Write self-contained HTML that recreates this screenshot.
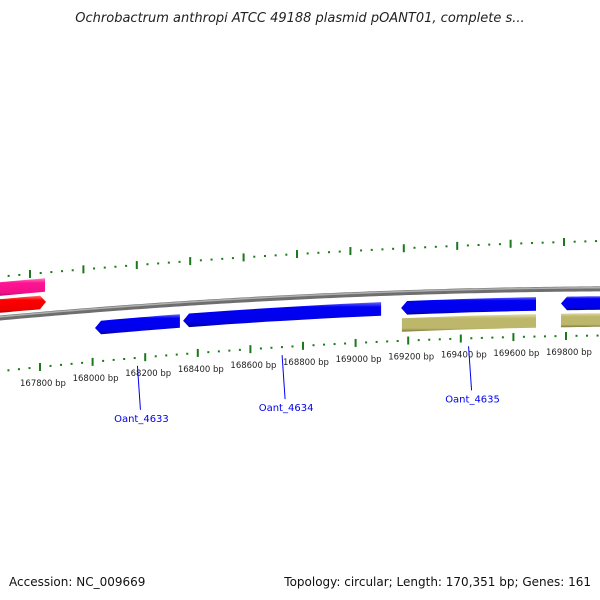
<!DOCTYPE html>
<html><head><meta charset="utf-8"><style>
body{margin:0;background:#fff}
svg{display:block;font-family:"DejaVu Sans","Liberation Sans",sans-serif}
</style></head><body>
<svg id="chart" width="600" height="600" viewBox="0 0 600 600" xmlns="http://www.w3.org/2000/svg">
<defs>
<linearGradient id="gBlue" x1="0" y1="0" x2="0" y2="1"><stop offset="0" stop-color="#6a6aff"/><stop offset="0.2" stop-color="#0000f5"/><stop offset="0.8" stop-color="#0000e8"/><stop offset="1" stop-color="#00009a"/></linearGradient>
<linearGradient id="gKhaki" x1="0" y1="0" x2="0" y2="1"><stop offset="0" stop-color="#e0dca8"/><stop offset="0.25" stop-color="#bdb76b"/><stop offset="0.8" stop-color="#bdb76b"/><stop offset="1" stop-color="#7a7540"/></linearGradient>
<linearGradient id="gRed" x1="0" y1="0" x2="0" y2="1"><stop offset="0" stop-color="#ff7070"/><stop offset="0.25" stop-color="#ff0000"/><stop offset="0.8" stop-color="#ee0000"/><stop offset="1" stop-color="#990000"/></linearGradient>
<linearGradient id="gPink" x1="0" y1="0" x2="0" y2="1"><stop offset="0" stop-color="#ff80c0"/><stop offset="0.25" stop-color="#ff1493"/><stop offset="0.8" stop-color="#f01088"/><stop offset="1" stop-color="#a00060"/></linearGradient>
</defs>
<text x="300" y="22" text-anchor="middle" font-size="13" font-style="italic" fill="#222">Ochrobactrum anthropi ATCC 49188 plasmid pOANT01, complete s...</text>
<g id="ticks"></g><g id="backbone"></g><g id="genes"></g><g id="labels"></g>
<text x="9" y="586" font-size="12" fill="#111">Accession: NC_009669</text>
<text x="591" y="586" text-anchor="end" font-size="12" fill="#111">Topology: circular; Length: 170,351 bp; Genes: 161</text>
</svg>
<script>
const tickBp = [167800,168000,168200,168400,168600,168800,169000,169200,169400,169600,169800];
const tickLabels = ["167800 bp","168000 bp","168200 bp","168400 bp","168600 bp","168800 bp","169000 bp","169200 bp","169400 bp","169600 bp","169800 bp"];
const geneNames = ["pink-gene","red-gene","Oant_4633","Oant_4634","Oant_4635","blue-gene-4","khaki-gene-1","khaki-gene-2"];
const geneStart = [167610,167620,168009,168344,169173,169781,169176,169781];
const geneEnd   = [167819,167823,168332,169097,169686,170000,169686,170000];
const geneStrand = [0,1,-1,-1,-1,-1,0,0];
const geneTrack = ["pink","red","blue","blue","blue","blue","khaki","khaki"];
const labelled = [false,false,true,true,true,false,false,false];

const NS="http://www.w3.org/2000/svg";
function mk(tag,attrs,parent){const e=document.createElementNS(NS,tag);for(const k in attrs)e.setAttribute(k,attrs[k]);parent.appendChild(e);return e;}
const xInner = bp => 40+(bp-167800)*0.263;
const xOuter = bp => 30+(bp-167800)*0.267;
const yInner = x => 371.2-0.1085*x+8.18e-5*x*x;
const yOuter = x => 276.7-0.0927*x+5.53e-5*x*x;
const yBack = x => 318-0.0917*x+7.2e-5*x*x;
const yBlue = x => 337.2-0.10434*x+7.89e-5*x*x;
const trackY = {
  blue: yBlue,
  khaki: x => yBlue(x)+17,
  pink: x => yBack(x)-29,
  red: x => yBack(x)-12
};
const fills={blue:"url(#gBlue)",khaki:"url(#gKhaki)",red:"url(#gRed)",pink:"url(#gPink)"};

const tg=document.getElementById('ticks');
for(let bp=167560; bp<=170100; bp+=40){
  const major = (bp%200)===0;
  [[xInner,yInner,'inner'],[xOuter,yOuter,'outer']].forEach(([fx,fy,nm])=>{
    const x=fx(bp); if(x<-5||x>605) return; const y=fy(x);
    const r=mk('rect', major?{x:x-1,y:y-4,width:2,height:8,fill:'#1a7a1a'}:{x:x-1,y:y-1,width:2,height:2,fill:'#1a7a1a'}, tg);
    
    
  });
}
tickBp.forEach((bp,i)=>{
  const x=xInner(bp);
  const t=mk('text',{x:x+3,y:yInner(x)+19,'text-anchor':'middle','font-size':'8.5',fill:'#222'},tg);
  t.textContent=tickLabels[i];
  
  
});

const bg=document.getElementById('backbone');
let d1="";for(let x=-5;x<=605;x+=5){d1+=(x===-5?"M":"L")+x+","+yBack(x).toFixed(2);}
const bb1=mk('path',{d:d1,stroke:'#6e6e6e',"stroke-width":5,fill:'none'},bg);


const bb2=mk('path',{d:d1,stroke:'#b0b0b0',"stroke-width":1.5,fill:'none',transform:'translate(0,-1.2)'},bg);



const gg=document.getElementById('genes'), lg=document.getElementById('labels');
const H=6.8, AH=6;
geneNames.forEach((nm,i)=>{
  const x1=xInner(geneStart[i]), x2=xInner(geneEnd[i]), f=trackY[geneTrack[i]];
  const s=geneStrand[i];
  const pts=[];
  const xa = s===-1? x1+AH : x1, xb = s===1? x2-AH : x2;
  if(s===-1) pts.push([x1,f(x1)]);
  for(let k=0;k<=10;k++){const x=xa+(xb-xa)*k/10;pts.push([x,f(x)-H]);}
  if(s===1) pts.push([x2,f(x2)]);
  for(let k=10;k>=0;k--){const x=xa+(xb-xa)*k/10;pts.push([x,f(x)+H]);}
  const p=mk('polygon',{points:pts.map(q=>q[0].toFixed(1)+","+q[1].toFixed(1)).join(" "),fill:fills[geneTrack[i]]},gg);
  
  
  if(labelled[i]){
    const xm=(x1+x2)/2, yi=yInner(xm);
    const l=mk('line',{x1:xm,y1:yi+8,x2:xm+3,y2:yi+52,stroke:'#0000ee','stroke-width':1},lg);
    
    
    const t=mk('text',{x:xm+4,y:yi+64,'text-anchor':'middle','font-size':'10',fill:'#0000ee'},lg);
    t.textContent=nm;
    
    
  }
});
</script>
</body></html>
